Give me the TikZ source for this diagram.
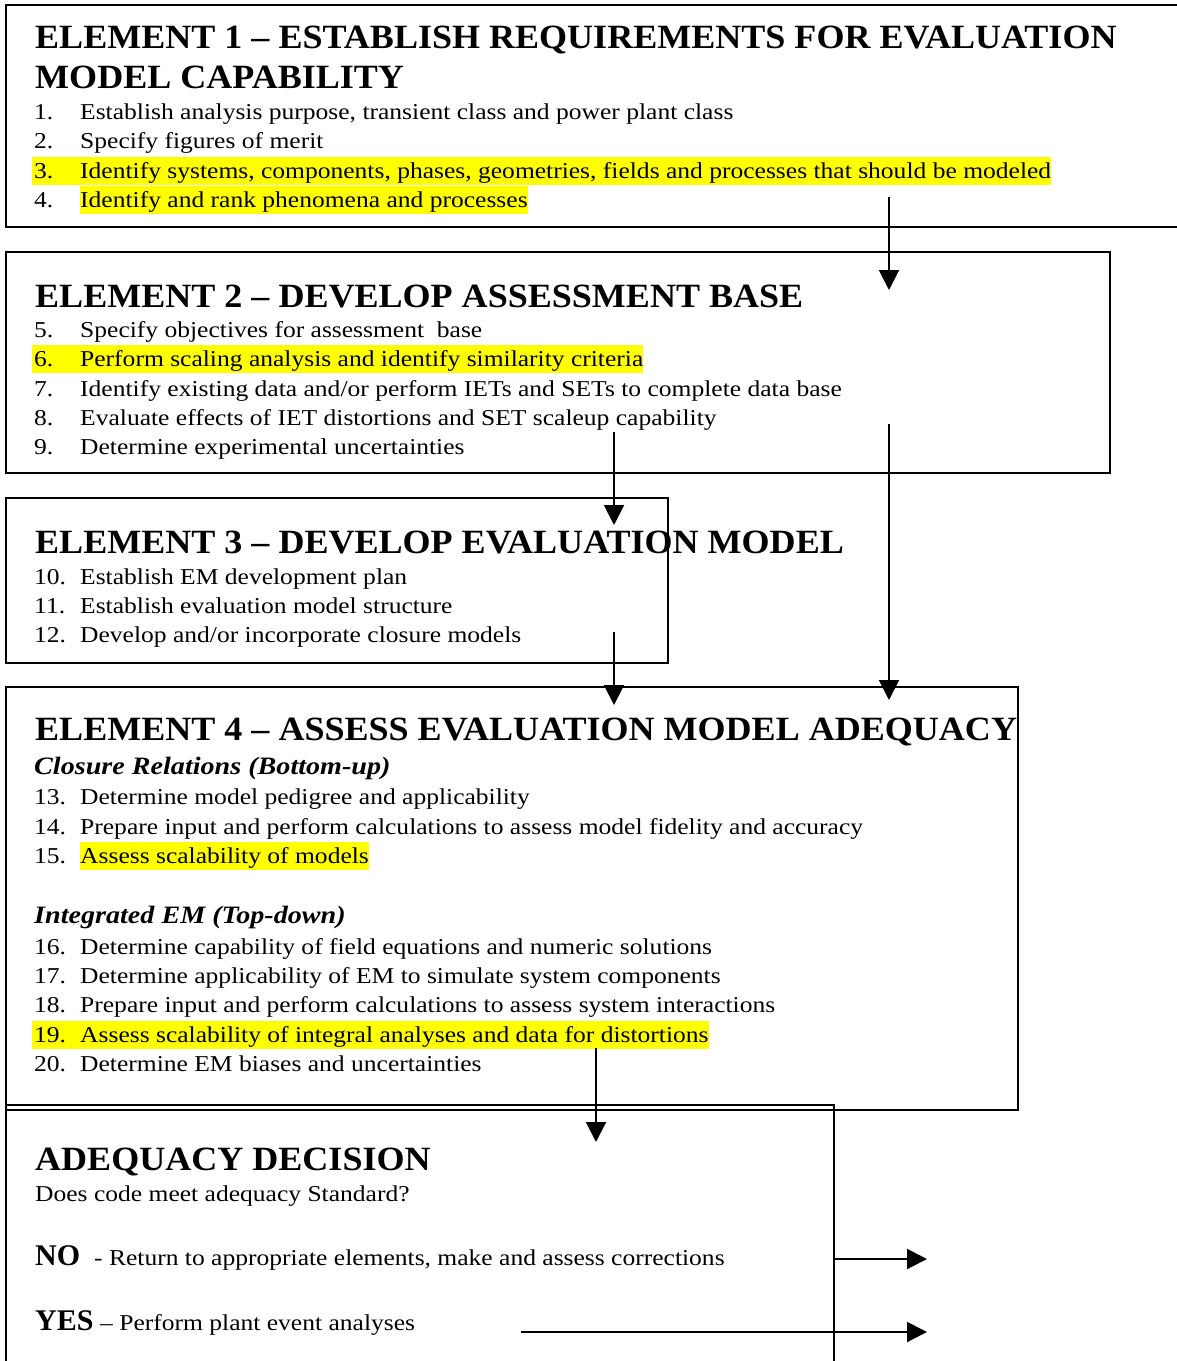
\documentclass[tikz,border=0pt]{standalone}
\usepackage{fontspec}
\setmainfont{Liberation Serif}
\newfontfamily\itemfont{Liberation Serif}[FakeStretch=1.125]
\newfontfamily\titlefont{Liberation Serif}[FakeStretch=1.06]
\usetikzlibrary{arrows.meta,backgrounds}
\definecolor{hlyellow}{RGB}{255,255,0}
\begin{document}
\begin{tikzpicture}[x=1pt,y=-1pt,
  box/.style={draw=black, line width=2pt},
  conn/.style={line width=2pt, -{Triangle[length=20pt,width=20pt]}},
  ttl/.style={anchor=base west, inner sep=0pt, font=\titlefont\fontsize{34}{40}\selectfont\bfseries},
  itm/.style={anchor=base west, inner sep=0pt, font=\itemfont\fontsize{22.7}{27}\selectfont},
  sub/.style={anchor=base west, inner sep=0pt, font=\itemfont\fontsize{25}{29}\selectfont\bfseries\itshape},
  big/.style={anchor=base west, inner sep=0pt, font=\fontsize{30}{34}\selectfont\bfseries},
  hl/.style={fill=hlyellow, text height=21pt, text depth=7pt},
]
\useasboundingbox (0,0) rectangle (1177,1361);

% boxes
\draw[box] (6,5) rectangle (1200,227);
\draw[box] (6,252) rectangle (1110,473);
\draw[box] (6,498) rectangle (668,663);
\draw[box] (6,687) rectangle (1018,1110);
\draw[box] (6,1400) -- (6,1105) -- (834,1105) -- (834,1400);

% Element 1
\node[ttl] (e1a) at (35,48) {ELEMENT 1 – ESTABLISH REQUIREMENTS FOR EVALUATION};
\node[ttl] (e1b) at (35,88) {MODEL CAPABILITY};
\node[itm] (n1) at (34,119) {1.};
\node[itm] (t1) at (80,119) {Establish analysis purpose, transient class and power plant class};
\node[itm] (n2) at (34,148) {2.};
\node[itm] (t2) at (80,148) {Specify figures of merit};
\node[itm] (n3) at (34,178) {3.};
\node[itm] (t3) at (80,178) {Identify systems, components, phases, geometries, fields and processes that should be modeled};
\node[itm] (n4) at (34,207) {4.};
\node[itm,hl] (t4) at (80,207) {Identify and rank phenomena and processes};

% Element 2
\node[ttl] (e2) at (35,307) {ELEMENT 2 – DEVELOP ASSESSMENT BASE};
\node[itm] (n5) at (34,337) {5.};
\node[itm] (t5) at (80,337) {Specify objectives for assessment\ \ base};
\node[itm] (n6) at (34,366) {6.};
\node[itm] (t6) at (80,366) {Perform scaling analysis and identify similarity criteria};
\node[itm] (n7) at (34,396) {7.};
\node[itm] (t7) at (80,396) {Identify existing data and/or perform IETs and SETs to complete data base};
\node[itm] (n8) at (34,425) {8.};
\node[itm] (t8) at (80,425) {Evaluate effects of IET distortions and SET scaleup capability};
\node[itm] (n9) at (34,454) {9.};
\node[itm] (t9) at (80,454) {Determine experimental uncertainties};

% Element 3
\node[ttl] (e3) at (35,553) {ELEMENT 3 – DEVELOP EVALUATION MODEL};
\node[itm] (n10) at (34,584) {10.};
\node[itm] (t10) at (80,584) {Establish EM development plan};
\node[itm] (n11) at (34,613) {11.};
\node[itm] (t11) at (80,613) {Establish evaluation model structure};
\node[itm] (n12) at (34,642) {12.};
\node[itm] (t12) at (80,642) {Develop and/or incorporate closure models};

% Element 4
\node[ttl] (e4) at (35,740) {ELEMENT 4 – ASSESS EVALUATION MODEL ADEQUACY};
\node[sub] (s1) at (34,774) {Closure Relations (Bottom-up)};
\node[itm] (n13) at (34,804) {13.};
\node[itm] (t13) at (80,804) {Determine model pedigree and applicability};
\node[itm] (n14) at (34,834) {14.};
\node[itm] (t14) at (80,834) {Prepare input and perform calculations to assess model fidelity and accuracy};
\node[itm] (n15) at (34,863) {15.};
\node[itm,hl] (t15) at (80,863) {Assess scalability of models};
\node[sub] (s2) at (34,923) {Integrated EM (Top-down)};
\node[itm] (n16) at (34,954) {16.};
\node[itm] (t16) at (80,954) {Determine capability of field equations and numeric solutions};
\node[itm] (n17) at (34,983) {17.};
\node[itm] (t17) at (80,983) {Determine applicability of EM to simulate system components};
\node[itm] (n18) at (34,1012) {18.};
\node[itm] (t18) at (80,1012) {Prepare input and perform calculations to assess system interactions};
\node[itm] (n19) at (34,1042) {19.};
\node[itm] (t19) at (80,1042) {Assess scalability of integral analyses and data for distortions};
\node[itm] (n20) at (34,1071) {20.};
\node[itm] (t20) at (80,1071) {Determine EM biases and uncertainties};

% Adequacy decision
\node[ttl] (ad) at (35,1170) {ADEQUACY DECISION};
\node[itm] (dq) at (35,1201) {Does code meet adequacy Standard?};
\node[big] (no) at (35,1265) {NO};
\node[itm] (not) at (94,1265) {- Return to appropriate elements, make and assess corrections};
\node[big] (yes) at (35,1330) {YES};
\node[itm] (yest) at (100,1330) {– Perform plant event analyses};

% full-line highlights
\begin{scope}[on background layer]
\fill[hlyellow] (32,157) rectangle (t3.east |- 0,185);
\fill[hlyellow] (32,345) rectangle (t6.east |- 0,373);
\fill[hlyellow] (32,1021) rectangle (t19.east |- 0,1049);
\end{scope}

% connectors
\coordinate (a1s) at (889,197);  \coordinate (a1e) at (889,290);
\coordinate (a2s) at (614,432);  \coordinate (a2e) at (614,525);
\coordinate (a3s) at (614,632);  \coordinate (a3e) at (614,705);
\coordinate (a4s) at (889,424);  \coordinate (a4e) at (889,700);
\coordinate (a5s) at (596,1048); \coordinate (a5e) at (596,1142);
\coordinate (nos) at (834,1259); \coordinate (noe) at (927,1259);
\coordinate (yss) at (521,1332); \coordinate (yse) at (927,1332);
\draw[conn] (a1s) -- (a1e);
\draw[conn] (a2s) -- (a2e);
\draw[conn] (a3s) -- (a3e);
\draw[conn] (a4s) -- (a4e);
\draw[conn] (a5s) -- (a5e);
\draw[conn] (nos) -- (noe);
\draw[conn] (yss) -- (yse);
\end{tikzpicture}
\end{document}
